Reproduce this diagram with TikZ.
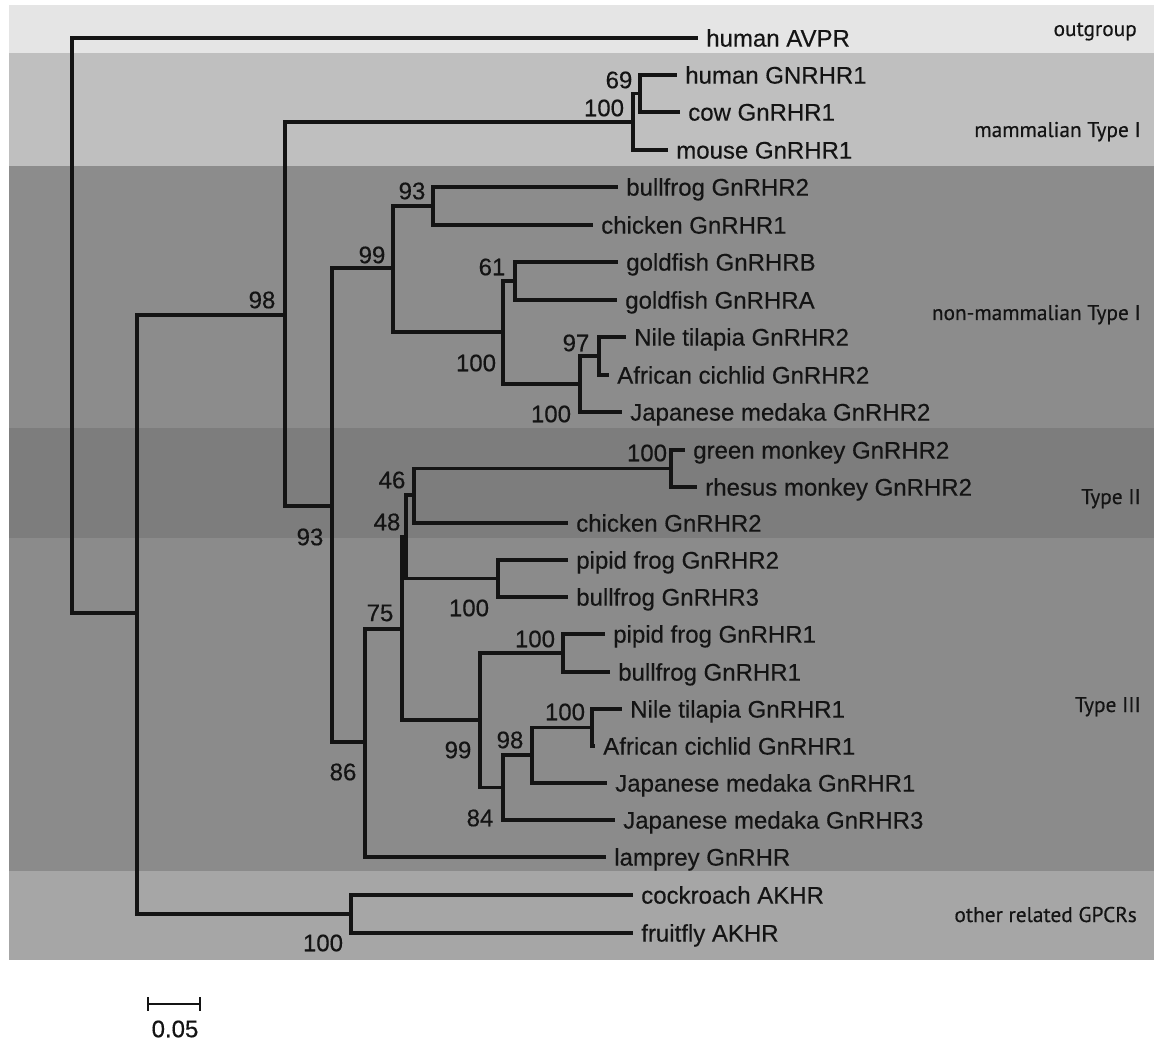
\documentclass[tikz,border=0pt]{standalone}
\usepackage{fontspec}
\setmainfont[FakeBold=0.4]{Liberation Sans}
\newfontfamily\bandfont[FakeBold=0.4]{PT Sans}
\definecolor{cOut}{gray}{0.90}
\definecolor{cMam}{gray}{0.75}
\definecolor{cNon}{gray}{0.55}
\definecolor{cII}{gray}{0.49}
\definecolor{cIII}{gray}{0.545}
\definecolor{cOth}{gray}{0.65}
\definecolor{ink}{gray}{0.08}
\begin{document}
\begin{tikzpicture}[x=0.75pt,y=-0.75pt,
  br/.style={line width=2.9pt,line join=miter,draw=ink},
  leaf/.style={anchor=west,inner xsep=6pt,inner ysep=0pt,text height=12.9pt,text depth=0pt,font=\fontsize{18}{20}\selectfont,text=ink},
  boot/.style={inner sep=0pt,font=\fontsize{18}{20}\selectfont,text=ink},
  band/.style={anchor=base east,inner sep=0pt,font=\bandfont\fontsize{16}{18}\selectfont,text=ink}]
\useasboundingbox (0,0) rectangle (1154,1041);
\fill[white] (0,0) rectangle (1154,1041);
% bands
\fill[cOut] (9,5) rectangle (1154,53);
\fill[cMam] (9,53) rectangle (1154,166);
\fill[cNon] (9,166) rectangle (1154,428);
\fill[cII] (9,428) rectangle (1154,538);
\fill[cIII] (9,538) rectangle (1154,871);
\fill[cOth] (9,871) rectangle (1154,960);
% band labels
\node[band] (g1) at (1137,36) {outgroup};
\node[band] (g2) at (1141,137) {mammalian Type I};
\node[band] (g3) at (1141,320) {non-mammalian Type I};
\node[band] (g4) at (1141,504) {Type II};
\node[band] (g5) at (1141,712) {Type III};
\node[band] (g6) at (1137,922) {other related GPCRs};
% leaves
\node[leaf] (L01) at (698,38) {human AVPR};
\node[leaf] (L02) at (677,75) {human GNRHR1};
\node[leaf] (L03) at (680,112) {cow GnRHR1};
\node[leaf] (L04) at (668,150) {mouse GnRHR1};
\node[leaf] (L05) at (618,187) {bullfrog GnRHR2};
\node[leaf] (L06) at (593,225) {chicken GnRHR1};
\node[leaf] (L07) at (618,262) {goldfish GnRHRB};
\node[leaf] (L08) at (617,300) {goldfish GnRHRA};
\node[leaf] (L09) at (626,337) {Nile tilapia GnRHR2};
\node[leaf] (L10) at (609,375) {African cichlid GnRHR2};
\node[leaf] (L11) at (622,412) {Japanese medaka GnRHR2};
\node[leaf] (L12) at (685,450) {green monkey GnRHR2};
\node[leaf] (L13) at (697,487) {rhesus monkey GnRHR2};
\node[leaf] (L14) at (568,523) {chicken GnRHR2};
\node[leaf] (L15) at (568,560) {pipid frog GnRHR2};
\node[leaf] (L16) at (568,597) {bullfrog GnRHR3};
\node[leaf] (L17) at (605,634) {pipid frog GnRHR1};
\node[leaf] (L18) at (610,672) {bullfrog GnRHR1};
\node[leaf] (L19) at (622,709) {Nile tilapia GnRHR1};
\node[leaf] (L20) at (595,746) {African cichlid GnRHR1};
\node[leaf] (L21) at (607,783) {Japanese medaka GnRHR1};
\node[leaf] (L22) at (615,820) {Japanese medaka GnRHR3};
\node[leaf] (L23) at (606,857) {lamprey GnRHR};
\node[leaf] (L24) at (633,895) {cockroach AKHR};
\node[leaf] (L25) at (633,933) {fruitfly AKHR};
% internal nodes
\coordinate (root) at (72,325);
\coordinate (nA) at (137,613);
\coordinate (nB) at (285,315);
\coordinate (nM) at (633,122);
\coordinate (n69) at (640,93.5);
\coordinate (nC) at (332,506);
\coordinate (nD) at (393,268);
\coordinate (n93) at (433,206);
\coordinate (nF) at (503,332);
\coordinate (n61) at (515,281);
\coordinate (nJ) at (580,384);
\coordinate (n97) at (599,356);
\coordinate (nE) at (365,742);
\coordinate (n75) at (402,629);
\coordinate (n48) at (406,537);
\coordinate (n46) at (414,495);
\coordinate (nMon) at (671,468.5);
\coordinate (n100b) at (498,578.5);
\coordinate (n99) at (480,720);
\coordinate (n100c) at (563,653);
\coordinate (n84) at (503,787.5);
\coordinate (n98) at (532,755);
\coordinate (n100d) at (592,727.5);
\coordinate (nG) at (351,914);
% branches
\draw[br] (root) |- (L01.west);
\draw[br] (root) |- (nA);
\draw[br] (nA) |- (nB);
\draw[br] (nA) |- (nG);
\draw[br] (nB) |- (nM);
\draw[br] (nB) |- (nC);
\draw[br] (nM) |- (n69);
\draw[br] (nM) |- (L04.west);
\draw[br] (n69) |- (L02.west);
\draw[br] (n69) |- (L03.west);
\draw[br] (nC) |- (nD);
\draw[br] (nC) |- (nE);
\draw[br] (nD) |- (n93);
\draw[br] (nD) |- (nF);
\draw[br] (n93) |- (L05.west);
\draw[br] (n93) |- (L06.west);
\draw[br] (nF) |- (n61);
\draw[br] (nF) |- (nJ);
\draw[br] (n61) |- (L07.west);
\draw[br] (n61) |- (L08.west);
\draw[br] (nJ) |- (n97);
\draw[br] (nJ) |- (L11.west);
\draw[br] (n97) |- (L09.west);
\draw[br] (n97) |- (L10.west);
\draw[br] (nE) |- (n75);
\draw[br] (nE) |- (L23.west);
\draw[br] (n75) |- (n48);
\draw[br] (n75) |- (n99);
\draw[br] (n48) |- (n46);
\draw[br] (n48) |- (n100b);
\draw[br] (n46) |- (nMon);
\draw[br] (n46) |- (L14.west);
\draw[br] (nMon) |- (L12.west);
\draw[br] (nMon) |- (L13.west);
\draw[br] (n100b) |- (L15.west);
\draw[br] (n100b) |- (L16.west);
\draw[br] (n99) |- (n100c);
\draw[br] (n99) |- (n84);
\draw[br] (n100c) |- (L17.west);
\draw[br] (n100c) |- (L18.west);
\draw[br] (n84) |- (n98);
\draw[br] (n84) |- (L22.west);
\draw[br] (n98) |- (n100d);
\draw[br] (n98) |- (L21.west);
\draw[br] (n100d) |- (L19.west);
\draw[br] (n100d) |- (L20.west);
\draw[br] (nG) |- (L24.west);
\draw[br] (nG) |- (L25.west);
% bootstrap values
\node[boot] (b98) at (262,300) {98};
\node[boot] (b100m) at (604,108) {100};
\node[boot] (b69) at (619,80) {69};
\node[boot] (b93a) at (412,191) {93};
\node[boot] (b99a) at (372,255) {99};
\node[boot] (b61) at (492,267) {61};
\node[boot] (b100f) at (476,363) {100};
\node[boot] (b97) at (576,343) {97};
\node[boot] (b100j) at (551,414) {100};
\node[boot] (b93c) at (310,537) {93};
\node[boot] (b100mon) at (647,453) {100};
\node[boot] (b46) at (392,480) {46};
\node[boot] (b48) at (387,522) {48};
\node[boot] (b100b) at (469,608) {100};
\node[boot] (b75) at (380,613) {75};
\node[boot] (b100c) at (535,639) {100};
\node[boot] (b100d) at (565,712) {100};
\node[boot] (b98b) at (510,740) {98};
\node[boot] (b99b) at (458,750) {99};
\node[boot] (b84) at (480,818) {84};
\node[boot] (b86) at (343,772) {86};
\node[boot] (b100g) at (323,943) {100};
% scale bar
\coordinate (sbL) at (148,1004);
\coordinate (sbR) at (200,1004);
\coordinate (sbLt) at (148,997);
\coordinate (sbLb) at (148,1011);
\coordinate (sbRt) at (200,997);
\coordinate (sbRb) at (200,1011);
\draw[line width=1.8pt,draw=ink] (sbL) -- (sbR);
\draw[line width=1.8pt,draw=ink] (sbLt) -- (sbLb);
\draw[line width=1.8pt,draw=ink] (sbRt) -- (sbRb);
\node[boot] (sbl) at (175,1029) {0.05};
\end{tikzpicture}
\end{document}
